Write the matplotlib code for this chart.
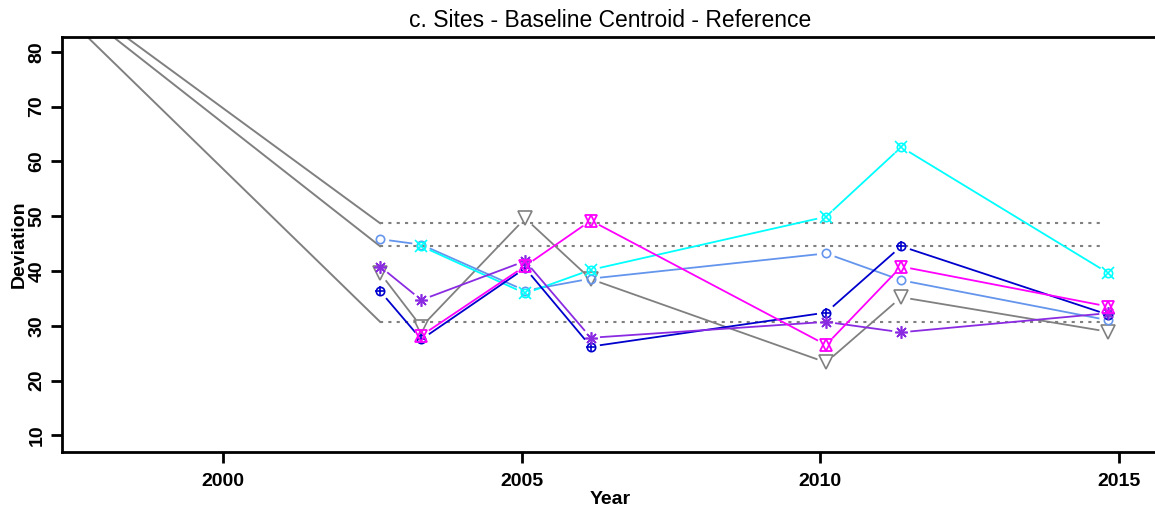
import numpy as np
import matplotlib
matplotlib.use('Agg')
import matplotlib.pyplot as plt

plt.rcParams['font.family'] = ['Liberation Sans', 'DejaVu Sans']

# survey dates and deviation per site
years = [2002.63, 2003.32, 2005.06, 2006.16, 2010.10, 2011.36, 2014.83]
site_a = [45.8, 44.8, 36.4, 38.6, 43.2, 38.3, 31.0]
site_b = [np.nan, 44.5, 35.9, 40.2, 49.9, 62.6, 39.6]
site_c = [36.3, 27.5, 40.5, 26.2, 32.4, 44.5, 32.0]
site_d = [40.8, 34.7, 41.8, 27.8, 30.7, 28.8, 32.3]
site_e = [np.nan, 28.2, 40.9, 49.2, 26.5, 40.8, 33.5]
site_f = [39.6, 29.8, 49.6, 38.5, 23.3, 35.2, 28.9]

# baseline reference levels and where the baseline trend starts
ref_levels = [48.7, 44.5, 30.7]
ref_start_year = 1995.2
ref_start_vals = [108.0, 108.0, 109.5]
ref_end_year = 2014.73

W, H = 1155, 514
fig = plt.figure(figsize=(W / 100, H / 100), dpi=100)
ax = fig.add_axes([62 / W, 1 - 452 / H, 1.0 - 62 / W + 0.002, (452 - 37) / H])
ax.set_xlim(1997.3, 2015.65)
ax.set_ylim(6.95, 82.7)


def gapped(x, y, gap=10, **kw):
    # lines that stop short of the points, like type="b"
    pts = ax.transData.transform(np.column_stack([x, y]))
    inv = ax.transData.inverted()
    for p0, p1 in zip(pts[:-1], pts[1:]):
        if np.isnan(p0).any() or np.isnan(p1).any():
            continue
        d = p1 - p0
        L = np.hypot(*d)
        if L <= 2 * gap:
            continue
        u = d / L
        seg = inv.transform([p0 + u * gap, p1 - u * gap])
        ax.plot(seg[:, 0], seg[:, 1], **kw)


# reference lines
for s, lv in zip(ref_start_vals, ref_levels):
    ax.plot([ref_start_year, years[0]], [s, lv], color='#808080', lw=1.4)
    ax.plot([years[0], ref_end_year], [lv, lv], color='#808080', lw=1.5,
            linestyle=(0, (1.5, 2.5)))

lw = 1.3
# gray triangles
gapped(years, site_f, color='#808080', lw=lw)
ax.plot(years, site_f, 'v', ms=10, mfc='none', mec='#808080', mew=1.2, ls='none')

# light blue circles
gapped(years, site_a, color='#6495ED', lw=lw)
ax.plot(years, site_a, 'o', ms=6, mfc='none', mec='#6495ED', mew=1.2, ls='none')

# cyan circle-cross
gapped(years, site_b, color='#00FFFF', lw=lw)
ax.plot(years, site_b, 'o', ms=6, mfc='none', mec='#00FFFF', mew=1.2, ls='none')
ax.plot(years, site_b, 'x', ms=8, mec='#00FFFF', mew=1.2, ls='none')

# blue circle-plus
gapped(years, site_c, color='#0000CD', lw=lw)
ax.plot(years, site_c, 'o', ms=6, mfc='none', mec='#0000CD', mew=1.2, ls='none')
ax.plot(years, site_c, '+', ms=7, mec='#0000CD', mew=1.2, ls='none')

# purple asterisks
gapped(years, site_d, color='#8A2BE2', lw=lw)
ax.plot(years, site_d, marker=(8, 2, 0), ms=9, mec='#8A2BE2', mew=1.2, ls='none')

# magenta stars of David
gapped(years, site_e, color='#FF00FF', lw=lw)
ax.plot(years, site_e, '^', ms=8, mfc='none', mec='#FF00FF', mew=1.3, ls='none')
ax.plot(years, site_e, 'v', ms=8, mfc='none', mec='#FF00FF', mew=1.3, ls='none')

# axes styling
ax.spines['right'].set_visible(False)
for sp in ['left', 'bottom', 'top']:
    ax.spines[sp].set_linewidth(2)
ax.set_xticks([2000, 2005, 2010, 2015])
ax.set_yticks(range(10, 81, 10))
ax.tick_params(axis='x', length=8, width=2, pad=7, labelsize=14)
ax.tick_params(axis='y', length=8, width=2, pad=4, labelsize=14)
for lab in ax.get_xticklabels():
    lab.set_fontweight('bold')
for lab in ax.get_yticklabels():
    lab.set_fontweight('bold')
    lab.set_rotation(90)
    lab.set_va('center')

ax.set_title('c. Sites - Baseline Centroid - Reference', fontsize=16.5, pad=7)
fig.text(610 / W, 1 - 500 / H, 'Year', ha='center', va='center',
         fontsize=14, fontweight='bold')
fig.text(19 / W, 1 - 244 / H, 'Deviation', ha='center', va='center',
         rotation=90, fontsize=14, fontweight='bold')

fig.savefig('out.png', dpi=100)
